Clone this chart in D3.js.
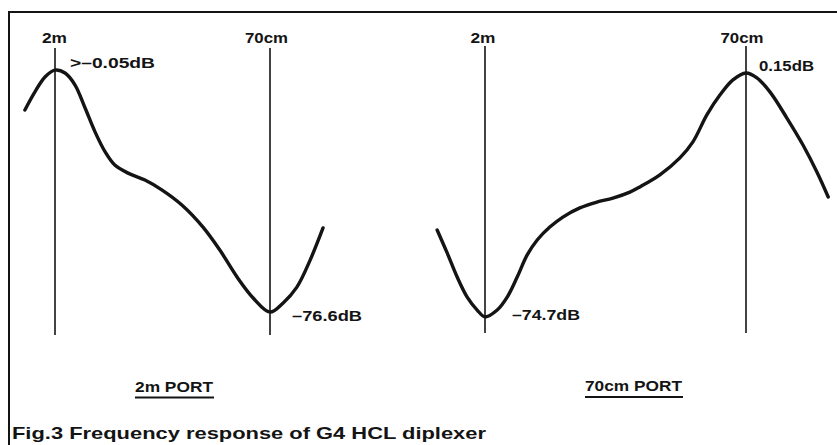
<!DOCTYPE html>
<html>
<head>
<meta charset="utf-8">
<script src="https://cdn.jsdelivr.net/npm/d3@7"></script>
<style>
  html, body { margin: 0; padding: 0; background: #fff; }
  svg { display: block; }
  text { font-family: "Liberation Sans", Arial, Helvetica, sans-serif; font-weight: bold; fill: #141414; }
</style>
</head>
<body>
<svg id="chart" width="837" height="445"></svg>
<script>
// ---- Data (relative frequency position 0..100, relative response level 0..100) ----
const markerNames = ["2m", "70cm"];
const markerPositions = [20, 80];

// 2m port response
const port2mFreq  = [11.6, 14.4, 17.2, 20, 22.8, 25.6, 28.4, 31.2, 34.0, 36.7, 40.4, 45.1, 49.9, 55.4, 61.3, 66.0, 70.8, 75.3, 80, 83.6, 87.5, 91.2, 94.8];
const port2mLevel = [78.4, 84.7, 89.9, 92.3, 91.3, 87.1, 79.1, 70.7, 63.8, 59.2, 56.4, 54.0, 50.5, 45.3, 37.6, 29.6, 20.2, 12.9, 8.0, 11.1, 16.7, 26.1, 37.3];
const port2mNotes = [">\u20130.05dB", "\u201376.6dB"];

// 70cm port response
const port70Freq  = [9.0, 11.3, 13.6, 15.9, 18.2, 20, 22.8, 25.1, 27.4, 29.7, 32.0, 34.9, 37.9, 41.8, 45.7, 49.4, 53.3, 55.6, 60.2, 64.8, 67.8, 71.0, 74.0, 77.0, 80, 82.5, 85.5, 89.4, 93.1, 96.3, 98.9];
const port70Level = [35.9, 27.9, 19.5, 12.5, 8.0, 5.6, 8.0, 12.5, 19.5, 27.2, 32.4, 36.9, 40.4, 43.6, 45.6, 47.0, 49.1, 50.9, 55.1, 61.0, 66.6, 76.0, 82.9, 88.2, 90.6, 88.9, 84.0, 74.9, 65.5, 56.1, 47.4];
const port70Notes = ["\u201374.7dB", "0.15dB"];

const portTitles = ["2m PORT", "70cm PORT"];
const caption = "Fig.3 Frequency response of G4 HCL diplexer";

// ---- Layout ----
const svg = d3.select("#chart");
const ink = "#141414";

// frame (top and left rules)
svg.append("line").attr("x1", 8).attr("x2", 837).attr("y1", 12).attr("y2", 12)
  .attr("stroke", ink).attr("stroke-width", 2);
svg.append("line").attr("x1", 9).attr("x2", 9).attr("y1", 12).attr("y2", 445)
  .attr("stroke", ink).attr("stroke-width", 2);

const panels = [
  { freq: port2mFreq, level: port2mLevel, notes: port2mNotes, title: portTitles[0],
    xr: [55, 270], yr: [335, 48],
    notePos: [{m: 0, dx: 15, y: 68, w: 85}, {m: 1, dx: 22, y: 321, w: 70}],
    labelCx: [54.5, 266.5], titleX: 135, titleW: 78, titleY: 392, ulY: 397.5 },
  { freq: port70Freq, level: port70Level, notes: port70Notes, title: portTitles[1],
    xr: [485, 746], yr: [333, 46],
    notePos: [{m: 0, dx: 27, y: 320, w: 68}, {m: 1, dx: 13, y: 71, w: 55}],
    labelCx: [483, 742], titleX: 585, titleW: 97, titleY: 391, ulY: 397 }
];

panels.forEach(p => {
  const x = d3.scaleLinear().domain(markerPositions).range(p.xr);
  const y = d3.scaleLinear().domain([0, 100]).range(p.yr);
  const g = svg.append("g");

  // marker lines and labels
  markerPositions.forEach((m, i) => {
    g.append("line")
      .attr("x1", x(m)).attr("x2", x(m))
      .attr("y1", y(100)).attr("y2", y(0))
      .attr("stroke", ink).attr("stroke-width", 1.6);
    const w = markerNames[i] === "2m" ? 25 : 43;
    g.append("text")
      .attr("x", p.labelCx[i]).attr("y", 43)
      .attr("text-anchor", "middle")
      .attr("font-size", 14)
      .attr("textLength", w).attr("lengthAdjust", "spacingAndGlyphs")
      .text(markerNames[i]);
  });

  // response curve
  const pts = p.freq.map((f, i) => [f, p.level[i]]);
  const line = d3.line().x(d => x(d[0])).y(d => y(d[1])).curve(d3.curveCatmullRom.alpha(0.5));
  g.append("path").datum(pts)
    .attr("d", line)
    .attr("fill", "none").attr("stroke", ink)
    .attr("stroke-width", 3.4).attr("stroke-linecap", "round").attr("stroke-linejoin", "round");

  // annotations
  p.notes.forEach((n, i) => {
    const np = p.notePos[i];
    g.append("text")
      .attr("x", x(markerPositions[np.m]) + np.dx).attr("y", np.y)
      .attr("font-size", 14)
      .attr("textLength", np.w).attr("lengthAdjust", "spacingAndGlyphs")
      .text(n);
  });

  // port title + underline
  g.append("text")
    .attr("x", p.titleX).attr("y", p.titleY)
    .attr("font-size", 15.5)
    .attr("textLength", p.titleW).attr("lengthAdjust", "spacingAndGlyphs")
    .text(p.title);
  g.append("line")
    .attr("x1", p.titleX).attr("x2", p.titleX + p.titleW + 1)
    .attr("y1", p.ulY).attr("y2", p.ulY)
    .attr("stroke", ink).attr("stroke-width", 2);
});

// caption
svg.append("text")
  .attr("x", 12).attr("y", 439)
  .attr("font-size", 16.5)
  .attr("textLength", 474).attr("lengthAdjust", "spacingAndGlyphs")
  .text(caption);
</script>
</body>
</html>
